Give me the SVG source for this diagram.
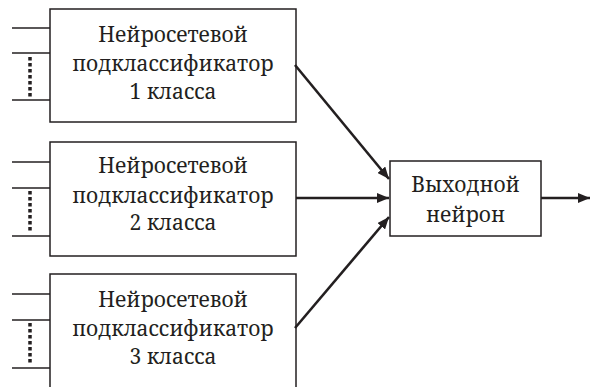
<svg xmlns="http://www.w3.org/2000/svg" width="590" height="387" viewBox="0 0 590 387">
<defs>
<style>
.box{fill:#fff;stroke:#231f20;stroke-width:1.5}
.in{stroke:#231f20;stroke-width:1.3;fill:none}
.dot{stroke:#231f20;stroke-width:3.5;stroke-dasharray:3.5 2.5;fill:none}
.arr{stroke:#231f20;stroke-width:2.6;fill:none;marker-end:url(#ah)}
text{font-family:'Noto Serif','Liberation Serif',serif;font-size:21px;fill:#231f20;text-anchor:middle}
</style>
<marker id="ah" viewBox="0 0 12 10" refX="12" refY="5" markerWidth="12" markerHeight="10" markerUnits="userSpaceOnUse" orient="auto">
<path d="M0,0 L12,5 L0,10 Z" fill="#231f20"/>
</marker>
</defs>
<g id="sub1">
<rect class="box" x="50" y="9" width="246" height="113"/>
<line class="in" x1="12" y1="28" x2="50" y2="28"/>
<line class="in" x1="12" y1="53" x2="50" y2="53"/>
<line class="in" x1="12" y1="100" x2="50" y2="100"/>
<line class="dot" x1="30" y1="57" x2="30" y2="97"/>
<text x="173" y="42">Нейросетевой</text>
<text x="173" y="71">подклассификатор</text>
<text x="173" y="99">1 класса</text>
</g>
<g id="sub2">
<rect class="box" x="50" y="142" width="246" height="114"/>
<line class="in" x1="12" y1="162" x2="50" y2="162"/>
<line class="in" x1="12" y1="188" x2="50" y2="188"/>
<line class="in" x1="12" y1="236" x2="50" y2="236"/>
<line class="dot" x1="30" y1="191" x2="30" y2="232"/>
<text x="173" y="173">Нейросетевой</text>
<text x="173" y="203">подклассификатор</text>
<text x="173" y="230">2 класса</text>
</g>
<g id="sub3">
<rect class="box" x="50" y="274" width="246" height="120"/>
<line class="in" x1="12" y1="294" x2="50" y2="294"/>
<line class="in" x1="12" y1="320" x2="50" y2="320"/>
<line class="in" x1="12" y1="368" x2="50" y2="368"/>
<line class="dot" x1="30" y1="323" x2="30" y2="364"/>
<text x="173" y="307">Нейросетевой</text>
<text x="173" y="336">подклассификатор</text>
<text x="173" y="364">3 класса</text>
</g>
<g id="out">
<rect class="box" x="390" y="161" width="151" height="75"/>
<text x="465.5" y="192">Выходной</text>
<text x="465.5" y="222">нейрон</text>
</g>
<g id="connectors">
<line class="arr" x1="295" y1="65" x2="389" y2="179"/>
<line class="arr" x1="296" y1="198" x2="389" y2="198"/>
<line class="arr" x1="295" y1="328" x2="389" y2="217"/>
<line class="arr" x1="541" y1="198" x2="590" y2="198"/>
</g>
</svg>
